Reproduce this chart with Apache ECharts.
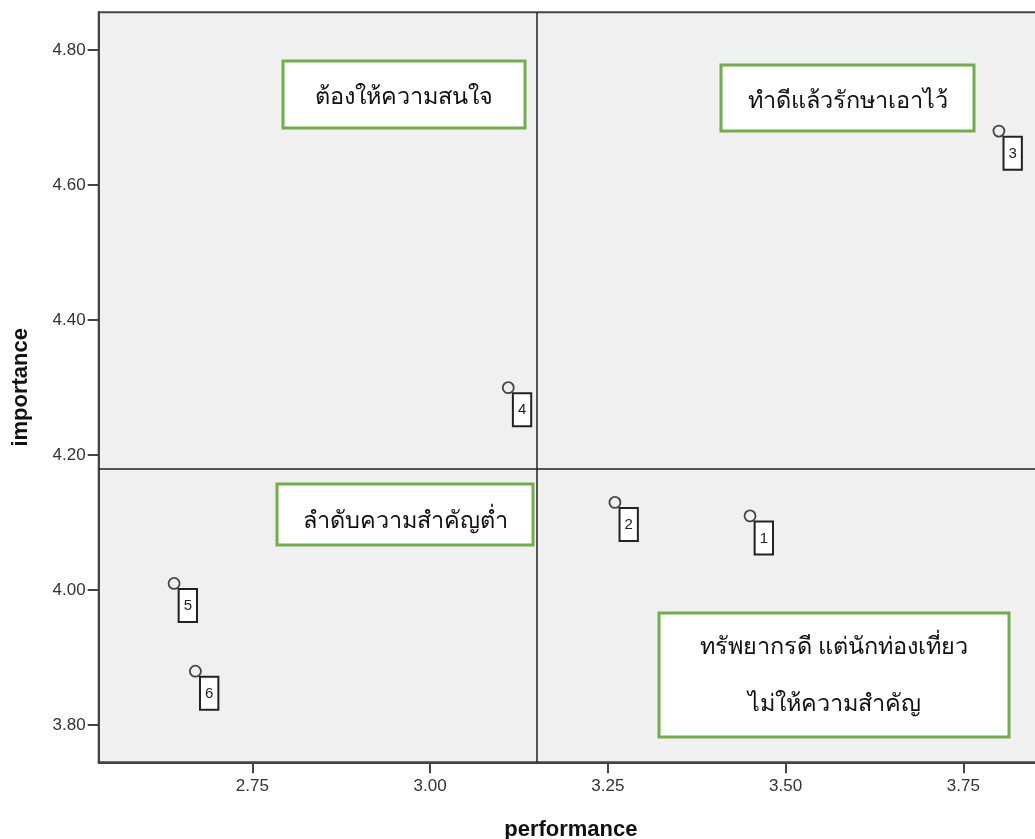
<!DOCTYPE html>
<html>
<head>
<meta charset="utf-8">
<script src="https://cdn.jsdelivr.net/npm/echarts@6/dist/echarts.min.js"></script>
<style>
html,body{margin:0;padding:0;background:#fff;}
#chart{width:1035px;height:839px;}
</style>
</head>
<body>
<div id="chart"></div>
<script>
// ---- data ----
const ids = ["1", "2", "3", "4", "5", "6"];
const performance = [3.45, 3.26, 3.80, 3.11, 2.64, 2.67];
const importance = [4.11, 4.13, 4.68, 4.30, 4.01, 3.88];
const xTicks = [2.75, 3.00, 3.25, 3.50, 3.75];
const yTicks = [3.80, 4.00, 4.20, 4.40, 4.60, 4.80];
const quadrantLabels = [
  "ต้องให้ความสนใจ",
  "ทำดีแล้วรักษาเอาไว้",
  "ลำดับความสำคัญต่ำ",
  "ทรัพยากรดี แต่นักท่องเที่ยว\nไม่ให้ความสำคัญ"
];

const mean = a => a.reduce((s, v) => s + v, 0) / a.length;
const meanX = mean(performance);
const meanY = mean(importance);
const points = ids.map((id, i) => [performance[i], importance[i], id]);

const chart = echarts.init(document.getElementById('chart'), null, {renderer: 'canvas'});
const green = '#72ad4a';
const thaiFont = "'Noto Sans', 'DejaVu Sans', sans-serif";
const latin = 'Liberation Sans, Arial, sans-serif';
function box(x, y, w, h, txt, ty) {
  return {
    type: 'group',
    z: 100,
    children: [
      {type: 'rect', shape: {x: x, y: y, width: w, height: h},
       style: {fill: '#fff', stroke: green, lineWidth: 3}},
      {type: 'text', x: x + w / 2, y: ty,
       style: {text: txt, fontSize: 23.5, fontFamily: thaiFont, fill: '#111',
               align: 'center', verticalAlign: 'middle', lineHeight: 57}}
    ]
  };
}

chart.setOption({
  animation: false,
  backgroundColor: '#fff',
  grid: {left: 98.7, top: 12.3, width: 944.3, bottom: 76.7, show: true,
         outerBoundsMode: 'none', containLabel: false,
         backgroundColor: '#f0f0f0', borderColor: '#444', borderWidth: 2},
  xAxis: {
    type: 'value', min: 2.534, max: 3.862,
    name: 'performance', nameLocation: 'middle', nameGap: 57,
    nameTextStyle: {fontSize: 22, fontWeight: 'bold', color: '#111', fontFamily: latin},
    axisLine: {show: true, lineStyle: {color: '#444', width: 2}},
    axisTick: {show: true, length: 11, lineStyle: {color: '#444', width: 2}, customValues: xTicks},
    axisLabel: {customValues: xTicks, formatter: v => v.toFixed(2), fontSize: 17, color: '#333', margin: 16,
                fontFamily: latin},
    splitLine: {show: false}
  },
  yAxis: {
    type: 'value', min: 3.745, max: 4.856,
    name: 'importance', nameLocation: 'middle', nameGap: 67, nameRotate: 90,
    nameTextStyle: {fontSize: 22, fontWeight: 'bold', color: '#111', fontFamily: latin},
    axisLine: {show: true, lineStyle: {color: '#444', width: 2}},
    axisTick: {show: true, length: 11, lineStyle: {color: '#444', width: 2}, customValues: yTicks},
    axisLabel: {customValues: yTicks, formatter: v => v.toFixed(2), fontSize: 17, color: '#333', margin: 13,
                fontFamily: latin},
    splitLine: {show: false}
  },
  series: [{
    type: 'scatter',
    data: points,
    symbol: 'circle',
    symbolSize: 11,
    itemStyle: {color: '#f0f0f0', borderColor: '#444', borderWidth: 1.8, opacity: 1},
    label: {
      show: true, formatter: p => p.data[2], position: [12, 13],
      backgroundColor: '#fff', borderColor: '#222', borderWidth: 2,
      padding: [7, 4, 6, 4], fontSize: 15, lineHeight: 18, color: '#222',
      fontFamily: latin
    },
    markLine: {
      silent: true, symbol: 'none', label: {show: false},
      lineStyle: {color: '#222', width: 1.5, type: 'solid'},
      data: [{xAxis: meanX}, {yAxis: meanY}]
    }
  }],
  graphic: [
    box(283, 61, 242, 67, quadrantLabels[0], 97),
    box(721, 65, 253, 66, quadrantLabels[1], 101),
    box(277, 484, 256, 61, quadrantLabels[2], 521),
    box(659, 613, 350, 124, quadrantLabels[3], 676)
  ]
});
</script>
</body>
</html>
